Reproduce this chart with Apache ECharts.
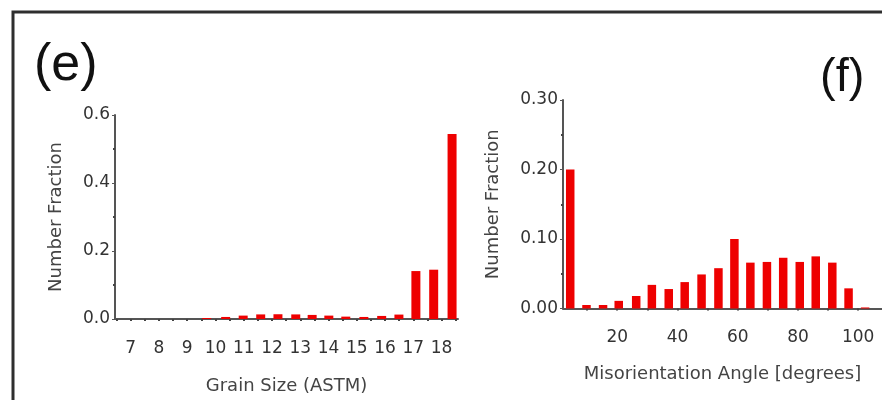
<!DOCTYPE html>
<html><head><meta charset="utf-8">
<script src="https://cdn.jsdelivr.net/npm/echarts@6/dist/echarts.min.js"></script>
<style>html,body{margin:0;padding:0;background:#fff}#c{width:882px;height:400px}</style>
</head><body><div id="c"></div>
<script>
// Panel (e): grain size histogram
const eBinX = [9.69, 10.36, 10.98, 11.60, 12.21, 12.84, 13.42, 14.01, 14.61, 15.25, 15.88, 16.49, 17.09, 17.72, 18.37];
const eValues = [0.003, 0.006, 0.010, 0.0135, 0.014, 0.0135, 0.012, 0.010, 0.007, 0.006, 0.009, 0.013, 0.141, 0.145, 0.544];
const eXLabels = [7, 8, 9, 10, 11, 12, 13, 14, 15, 16, 17, 18];
const eXTickMarks = [6.5, 7, 7.5, 8, 8.5, 9, 9.5, 10, 10.5, 11, 11.5, 12, 12.5, 13, 13.5, 14, 14.5, 15, 15.5, 16, 16.5, 17, 17.5, 18, 18.5];
// Panel (f): misorientation angle histogram
const fBinX = [4.4, 9.8, 15.3, 20.5, 26.3, 31.5, 37.1, 42.4, 48.0, 53.6, 58.9, 64.2, 69.7, 75.1, 80.6, 85.9, 91.4, 96.8, 102.3];
const fValues = [0.200, 0.005, 0.005, 0.011, 0.018, 0.034, 0.028, 0.038, 0.049, 0.058, 0.100, 0.066, 0.067, 0.073, 0.067, 0.075, 0.066, 0.029, 0.0015];
const fXLabels = [20, 40, 60, 80, 100];
const fXTickMarks = [10, 20, 30, 40, 50, 60, 70, 80, 90, 100];

const RED = '#ee0000';
const AX = '#555';
const TXT = '#333';
const FONT = 'DejaVu Sans';

const chart = echarts.init(document.getElementById('c'), null, {renderer: 'canvas'});

function xAxisCfg(gridIndex, min, max, labels, ticks, name, nameGap) {
  return {
    type: 'value', gridIndex, min, max, name, nameLocation: 'middle', nameGap,
    nameTextStyle: {fontFamily: FONT, fontSize: 18, color: '#444'},
    axisLine: {show: true, lineStyle: {color: AX, width: 2}},
    axisTick: {show: true, length: 2, customValues: ticks, lineStyle: {color: '#444', width: 2}},
    axisLabel: {customValues: labels, margin: 21, fontFamily: FONT, fontSize: 17, color: TXT},
    splitLine: {show: false}
  };
}
function yAxisCfg(gridIndex, max, interval, digits, name, nameGap) {
  return {
    type: 'value', gridIndex, min: 0, max, interval, name, nameLocation: 'middle', nameGap,
    nameTextStyle: {fontFamily: FONT, fontSize: 18, color: '#444'},
    axisLine: {show: true, lineStyle: {color: AX, width: 2}},
    axisTick: {show: true, length: 3, lineStyle: {color: AX, width: 1}},
    minorTick: {show: true, splitNumber: 2, length: 2, lineStyle: {color: '#444', width: 2}},
    axisLabel: {margin: 5, fontFamily: FONT, fontSize: 17, color: TXT, formatter: v => v.toFixed(digits)},
    splitLine: {show: false}
  };
}

chart.setOption({
  animation: false,
  backgroundColor: '#fff',
  grid: [
    {left: 115, top: 115, width: 343, height: 208},
    {left: 563, top: 100, width: 322, height: 208.5}
  ],
  xAxis: [
    xAxisCfg(0, 6.445, 18.58, eXLabels, eXTickMarks, 'Grain Size (ASTM)', 58),
    xAxisCfg(1, 2.0, 107.9, fXLabels, fXTickMarks, 'Misorientation Angle [degrees]', 57)
  ],
  yAxis: [
    yAxisCfg(0, 0.6, 0.2, 1, 'Number Fraction', 50),
    yAxisCfg(1, 0.3, 0.1, 2, 'Number Fraction', 61)
  ],
  series: [
    {type: 'bar', xAxisIndex: 0, yAxisIndex: 0, barWidth: 9, itemStyle: {color: RED},
     data: eBinX.map((x, i) => [x, eValues[i]])},
    {type: 'bar', xAxisIndex: 1, yAxisIndex: 1, barWidth: 8.5, itemStyle: {color: RED},
     data: fBinX.map((x, i) => [x, fValues[i]])}
  ],
  graphic: [
    {type: 'rect', shape: {x: 13, y: 12, width: 900, height: 420}, style: {fill: 'none', stroke: '#2e2e2e', lineWidth: 3}, z: 100},
    {type: 'text', x: 34, y: 66, style: {text: '(e)', font: '52px "Liberation Sans"', fill: '#111', textVerticalAlign: 'middle'}, z: 100},
    {type: 'text', x: 820, y: 78, style: {text: '(f)', font: '47px "Liberation Sans"', fill: '#111', textVerticalAlign: 'middle'}, z: 100}
  ]
});
</script></body></html>
